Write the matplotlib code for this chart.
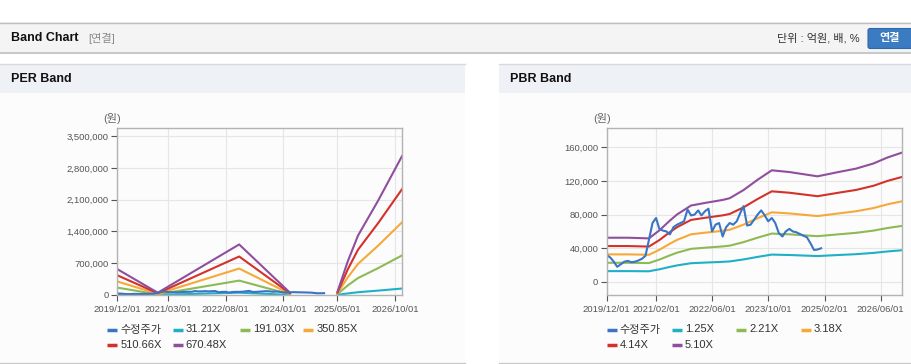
import numpy as np
import pandas as pd
import matplotlib
matplotlib.use('Agg')
import matplotlib.pyplot as plt
import matplotlib.dates as mdates
from matplotlib.patches import Rectangle, FancyBboxPatch
from matplotlib.ticker import FuncFormatter

plt.rcParams['font.family'] = ['Liberation Sans', 'Noto Sans CJK KR']

W, H = 912, 364

# ---- data ----
price_dates = pd.date_range('2019-12-01', periods=62, freq='MS')
price = [32000, 29000, 24000, 18000, 21000, 24000, 25000, 23500, 24000, 25500,
         27500, 31000, 50000, 70000, 76000, 63000, 61000, 60000, 56500, 65000,
         68000, 70000, 72000, 86000, 79000, 80000, 85000, 79000, 84000, 87000,
         60000, 68000, 70000, 54000, 65000, 70000, 68000, 72000, 82000, 90000,
         67000, 68000, 74000, 80000, 85000, 79000, 72000, 76000, 70000, 58000,
         54000, 60000, 63000, 60000, 59000, 57000, 55000, 53000, 46000, 38000,
         38500, 40000]

per_eps_dates = pd.to_datetime(['2019-12-01', '2020-12-01', '2022-12-01', '2024-03-01',
                                '2024-10-01', '2025-05-01', '2025-08-01', '2025-11-01',
                                '2026-05-01', '2026-12-01'])
per_eps = [855, 75, 1660, 75, np.nan, 105, 1100, 1950, 3100, 4560]
per_multiples = [31.21, 191.03, 350.85, 510.66, 670.48]

pbr_bps_dates = pd.to_datetime(['2019-12-01', '2020-06-01', '2020-12-01', '2021-03-01',
                                '2021-06-01', '2021-08-01', '2021-12-01', '2022-04-01',
                                '2022-09-01', '2022-11-01', '2023-03-01', '2023-07-01',
                                '2023-11-01', '2024-04-01', '2024-12-01', '2025-06-01',
                                '2025-11-01', '2026-04-01', '2026-08-01', '2026-12-01'])
pbr_bps = [10300, 10300, 10150, 12000, 14300, 15700, 17800, 18400, 19100, 19500,
           21400, 23800, 26000, 25600, 24600, 25600, 26400, 27600, 29000, 30100]
pbr_multiples = [1.25, 2.21, 3.18, 4.14, 5.10]

per_xticks = ['2019-12-01', '2021-03-01', '2022-08-01', '2024-01-01', '2025-05-01', '2026-10-01']
pbr_xticks = ['2019-12-01', '2021-02-01', '2022-06-01', '2023-10-01', '2025-02-01', '2026-06-01']
per_yticks = [0, 700000, 1400000, 2100000, 2800000, 3500000]
pbr_yticks = [0, 40000, 80000, 120000, 160000]

price_label = '수정주가'
price_color = '#3a74c5'
band_colors = ['#1fb0c8', '#8dba55', '#f6a938', '#d3322a', '#8f4f9d']

# ---- figure ----
fig = plt.figure(figsize=(W / 100, H / 100), dpi=100)
fig.patch.set_facecolor('white')
bg = fig.add_axes([0, 0, 1, 1])
bg.set_xlim(0, W)
bg.set_ylim(H, 0)
bg.axis('off')

# top header bar
bg.add_patch(Rectangle((0, 22), W, 31, fc='#f4f4f4', ec='none'))
bg.plot([0, W], [22.5, 22.5], color='#bdbdbd', lw=1)
bg.plot([0, W], [53, 53], color='#c9c9c9', lw=1.5)
bg.text(11, 38, 'Band Chart', fontsize=9, fontweight='bold', va='center', color='#111')
bg.text(88, 38, '[연결]', fontsize=8, va='center', color='#8a8a8a')
bg.text(860, 38, '단위 : 억원, 배, %', fontsize=8, va='center', ha='right', color='#333')
bg.add_patch(FancyBboxPatch((868, 28.5), 50, 20, boxstyle='round,pad=0,rounding_size=2',
                            fc='#3b7bc2', ec='#2f68a8', lw=0.8))
bg.text(890, 38.5, '연결', fontsize=8, fontweight='bold', va='center', ha='center', color='white')


def draw_panel(x0, x1, title):
    bg.add_patch(Rectangle((x0, 64), x1 - x0, 29, fc='#eef1f6', ec='none'))
    bg.add_patch(Rectangle((x0, 93), x1 - x0, 269, fc='#fcfcfc', ec='none'))
    bg.plot([x0, x1], [64, 64], color='#d9d9d9', lw=1)
    bg.plot([x0, x1], [362.5, 362.5], color='#c8c8c8', lw=1)
    bg.text(x0 + 11, 79, title, fontsize=9, fontweight='bold', va='center', color='#111')


def px_axes(x0, y0, x1, y1):
    return fig.add_axes([x0 / W, 1 - y1 / H, (x1 - x0) / W, (y1 - y0) / H])


def band_chart(ax, base_dates, base, multiples, ylim, yticks, xticks):
    for m, c in zip(multiples, band_colors):
        ax.plot(base_dates, np.array(base) * m, color=c, lw=1.5)
    ax.plot(price_dates, price, color=price_color, lw=1.5)
    ax.set_facecolor('none')
    ax.set_xlim(pd.Timestamp('2019-12-01'), pd.Timestamp('2026-12-01'))
    ax.set_ylim(*ylim)
    ax.set_xticks(pd.to_datetime(xticks))
    ax.xaxis.set_major_formatter(mdates.DateFormatter('%Y/%m/%d'))
    ax.set_yticks(yticks)
    ax.yaxis.set_major_formatter(FuncFormatter(lambda v, p: f'{v:,.0f}'))
    ax.grid(True, color='#e6e6e6', lw=0.8)
    ax.set_axisbelow(True)
    for s in ax.spines.values():
        s.set_color('#b3b3b3')
        s.set_linewidth(1)
    ax.tick_params(axis='both', labelsize=6.8, colors='#555555', length=4, width=0.8,
                   pad=2)
    ax.tick_params(axis='x', pad=3)


def draw_legend(cols, labels, colors):
    rows = [329.5, 344.5]
    for i, (lab, c) in enumerate(zip(labels, colors)):
        x = cols[i % 4]
        y = rows[i // 4]
        bg.plot([x, x + 10], [y, y], color=c, lw=2.5, solid_capstyle='butt')
        bg.text(x + 13, y, lab, fontsize=8, va='center', color='#333')


draw_panel(0, 465, 'PER Band')
draw_panel(499, W, 'PBR Band')

bg.text(112, 118, '(원)', fontsize=8, ha='center', va='center', color='#666')
bg.text(602, 118, '(원)', fontsize=8, ha='center', va='center', color='#666')

ax1 = px_axes(117, 128.3, 402, 295)
band_chart(ax1, per_eps_dates, per_eps, per_multiples, (0, 3670000), per_yticks, per_xticks)

ax2 = px_axes(606.7, 128.3, 901.7, 295)
band_chart(ax2, pbr_bps_dates, pbr_bps, pbr_multiples, (-15500, 182500), pbr_yticks, pbr_xticks)

per_labels = [price_label] + [f'{m:.2f}X' for m in per_multiples]
pbr_labels = [price_label] + [f'{m:.2f}X' for m in pbr_multiples]
all_colors = [price_color] + band_colors
draw_legend([107.3, 172.7, 240.5, 303.3], per_labels, all_colors)
draw_legend([606.7, 671.7, 736.5, 800.7], pbr_labels, all_colors)

fig.savefig('out.png', dpi=100)
